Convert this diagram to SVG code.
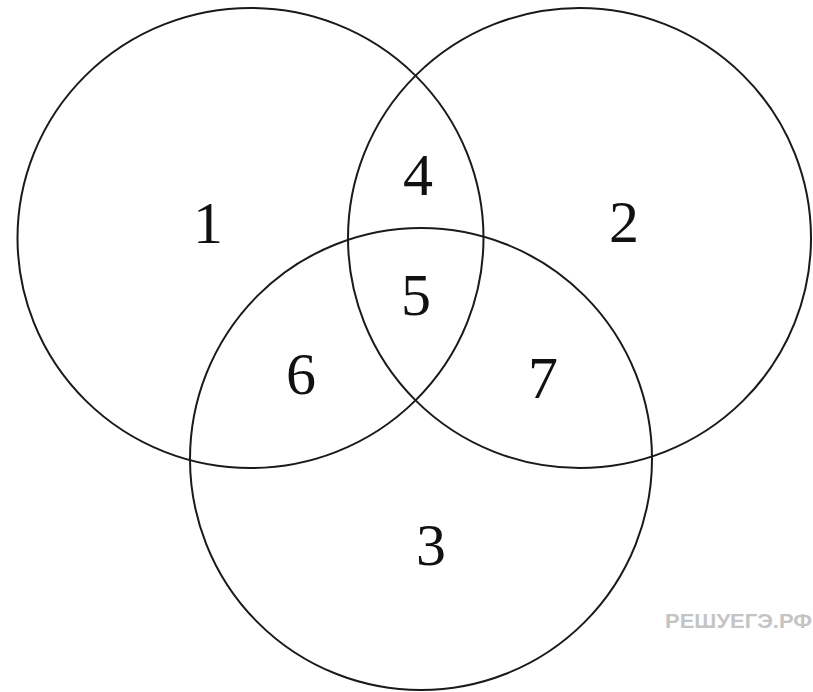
<svg xmlns="http://www.w3.org/2000/svg" width="813" height="692" viewBox="0 0 813 692">
<style>
.c{fill:none;stroke:#1a1a1a;stroke-width:2}
.n{font-family:"Liberation Serif","Times New Roman",serif;font-size:60px;fill:#111;text-anchor:middle}
.w{font-family:"Liberation Sans",Arial,sans-serif;font-weight:bold;font-size:21px;fill:#c4c4c4}
</style>
<rect width="813" height="692" fill="#fff"/>
<g id="circle1"><ellipse class="c" cx="250.5" cy="238" rx="233" ry="230"/></g>
<g id="circle2"><ellipse class="c" cx="579.5" cy="238" rx="231.5" ry="230"/></g>
<g id="circle3"><ellipse class="c" cx="421" cy="459" rx="231" ry="231"/></g>
<g id="labels">
<text class="n" x="208" y="243">1</text>
<text class="n" x="624" y="242">2</text>
<text class="n" x="431" y="565">3</text>
<text class="n" x="418" y="195">4</text>
<text class="n" x="416" y="315">5</text>
<text class="n" x="301" y="394">6</text>
<text class="n" x="543" y="398">7</text>
</g>
<text class="w" x="665" y="628" textLength="147" lengthAdjust="spacingAndGlyphs">РЕШУЕГЭ.РФ</text>
</svg>
